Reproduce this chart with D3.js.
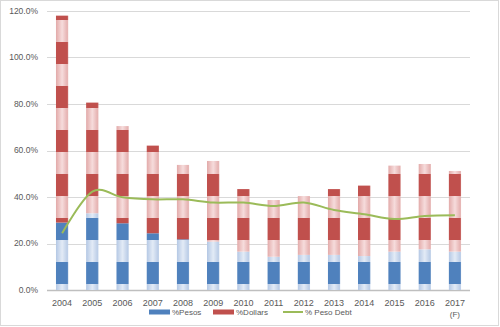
<!DOCTYPE html>
<html>
<head>
<meta charset="utf-8">
<script src="https://cdn.jsdelivr.net/npm/d3@7"></script>
<style>
  body { margin: 0; background: #fff; }
  text { font-family: "Liberation Sans", Arial, sans-serif; fill: #595959; }
</style>
</head>
<body>
<div id="chart"></div>
<script>
// data (percent)
var years = ["2004","2005","2006","2007","2008","2009","2010","2011","2012","2013","2014","2015","2016","2017"];
var pesos = [29.0, 33.0, 28.7, 24.4, 21.8, 20.8, 16.5, 14.3, 15.1, 15.1, 14.6, 16.5, 17.5, 16.5];
var dollars = [89.0, 47.6, 41.8, 37.7, 32.0, 34.7, 26.9, 24.4, 25.3, 28.3, 30.3, 37.0, 36.7, 34.7];
var pesoDebt = [24.4, 42.3, 39.9, 39.0, 39.0, 37.6, 37.6, 36.1, 37.6, 34.4, 32.6, 30.5, 31.8, 32.1];
var yTicks = [0, 20, 40, 60, 80, 100, 120];

var W = 500, H = 327;
var margin = {top: 11, right: 30, bottom: 37, left: 47},
    width = W - margin.left - margin.right,
    height = H - margin.top - margin.bottom;

var svg = d3.select("#chart").append("svg")
    .attr("width", W)
    .attr("height", H);

// outer frame
svg.append("rect")
  .attr("x", 0.5).attr("y", 0.5)
  .attr("width", 498).attr("height", 325)
  .attr("fill", "#fff")
  .attr("stroke", "#d9d9d9");

var g = svg.append("g")
  .attr("transform", "translate(" + margin.left + "," + margin.top + ")");

var x = d3.scaleBand()
  .domain(years)
  .range([0, width])
  .paddingInner(0.586)
  .paddingOuter(0.293);

var y = d3.scaleLinear()
  .domain([0, 120])
  .range([height, 0]);

// striped fills
var defs = svg.append("defs");
function makePattern(id, dark, edge, mid) {
  var gr = defs.append("linearGradient").attr("id", id + "-grad");
  gr.append("stop").attr("offset", "0%").attr("stop-color", edge);
  gr.append("stop").attr("offset", "50%").attr("stop-color", mid);
  gr.append("stop").attr("offset", "100%").attr("stop-color", edge);
  var p = defs.append("pattern")
    .attr("id", id)
    .attr("patternUnits", "userSpaceOnUse")
    .attr("x", x(years[0]))
    .attr("y", y(0) - 28)
    .attr("width", x.step())
    .attr("height", 44);
  p.append("rect").attr("x", 0).attr("y", 0)
    .attr("width", x.bandwidth()).attr("height", 22).attr("fill", dark);
  p.append("rect").attr("x", 0).attr("y", 22)
    .attr("width", x.bandwidth()).attr("height", 22).attr("fill", "url(#" + id + "-grad)");
}
makePattern("pBlue", "#4f81bd", "#b3c7e4", "#e3ebf6");
makePattern("pRed", "#c0504d", "#e2a9a8", "#f6dcdc");

// gridlines
g.selectAll(".grid")
  .data(yTicks)
  .enter().append("line")
    .attr("x1", 0).attr("x2", width)
    .attr("y1", function(d) { return Math.round(y(d)) + 0.5; })
    .attr("y2", function(d) { return Math.round(y(d)) + 0.5; })
    .attr("stroke", function(d) { return d === 0 ? "#bfbfbf" : "#d9d9d9"; })
    .attr("stroke-width", function(d) { return d === 0 ? 1.5 : 1; });

// y labels
g.selectAll(".ylab")
  .data(yTicks)
  .enter().append("text")
    .attr("x", -9)
    .attr("y", function(d) { return y(d); })
    .attr("dy", "0.35em")
    .attr("text-anchor", "end")
    .style("font-size", "8.5px")
    .text(function(d) { return d.toFixed(1) + "%"; });

// bars
var rows = years.map(function(yr, i) { return {year: yr, pesos: pesos[i], dollars: dollars[i]}; });
var stack = d3.stack().keys(["pesos", "dollars"])(rows);
var fills = {pesos: "url(#pBlue)", dollars: "url(#pRed)"};

g.selectAll(".series")
  .data(stack)
  .enter().append("g")
    .attr("fill", function(d) { return fills[d.key]; })
  .selectAll("rect")
  .data(function(d) { return d; })
  .enter().append("rect")
    .attr("x", function(d) { return x(d.data.year); })
    .attr("y", function(d) { return y(d[1]); })
    .attr("width", x.bandwidth())
    .attr("height", function(d) { return y(d[0]) - y(d[1]); });

// peso debt line
g.append("path")
  .datum(pesoDebt)
  .attr("fill", "none")
  .attr("stroke", "#9bbb59")
  .attr("stroke-width", 2)
  .attr("d", d3.line()
    .curve(d3.curveCardinal.tension(0))
    .x(function(d, i) { return x(years[i]) + x.bandwidth() / 2; })
    .y(function(d) { return y(d); }));

// x labels
g.selectAll(".xlab")
  .data(years)
  .enter().append("text")
    .attr("x", function(d) { return x(d) + x.bandwidth() / 2; })
    .attr("y", height + 16)
    .attr("text-anchor", "middle")
    .style("font-size", "9px")
    .text(function(d) { return d; });

g.append("text")
  .attr("x", x("2017") + x.bandwidth() / 2)
  .attr("y", height + 27)
  .attr("text-anchor", "middle")
  .style("font-size", "8px")
  .text("(F)");

// legend
var legend = svg.append("g").attr("transform", "translate(0,312)");
legend.append("rect").attr("x", 149).attr("y", -2.5).attr("width", 21).attr("height", 5).attr("fill", "#4f81bd");
legend.append("text").attr("x", 172).attr("dy", "0.35em").style("font-size", "8px").text("%Pesos");
legend.append("rect").attr("x", 213).attr("y", -2.5).attr("width", 21).attr("height", 5).attr("fill", "#c0504d");
legend.append("text").attr("x", 236).attr("dy", "0.35em").style("font-size", "8px").text("%Dollars");
legend.append("line").attr("x1", 283).attr("x2", 303).attr("y1", 0).attr("y2", 0)
  .attr("stroke", "#9bbb59").attr("stroke-width", 2);
legend.append("text").attr("x", 305).attr("dy", "0.35em").style("font-size", "8px").text("% Peso Debt");
</script>
</body>
</html>
